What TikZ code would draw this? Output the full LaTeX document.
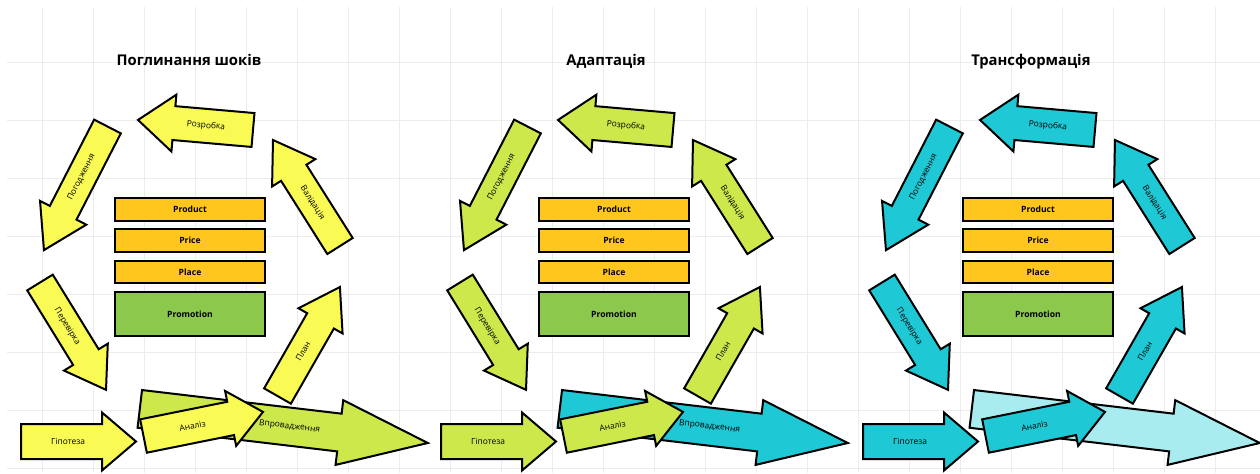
\documentclass[tikz,border=0pt]{standalone}
\usepackage{fontspec}
\setmainfont{Open Sans}
\usetikzlibrary{calc}

\definecolor{arrowyellow}{RGB}{250,250,85}
\definecolor{arrowlime}{RGB}{205,232,75}
\definecolor{arrowcyan}{RGB}{30,200,212}
\definecolor{arrowpale}{RGB}{168,236,240}
\definecolor{boxgold}{RGB}{255,198,30}
\definecolor{boxgreen}{RGB}{140,200,75}
\definecolor{gridgray}{RGB}{236,236,236}

% block arrow: name, tail centre, angle, length, half shaft, half head, head length, fill
\newcommand{\flowarrow}[8]{%
  \begin{scope}[shift={#2}, rotate=#3]
    \filldraw[arrowshape, fill=#8] (0,-#5) -- ({#4-#7},-#5) -- ({#4-#7},-#6) -- (#4,0)
      -- ({#4-#7},#6) -- ({#4-#7},#5) -- (0,#5) -- cycle;
    \coordinate (#1-tail) at (0,0);
    \coordinate (#1-tip) at (#4,0);
  \end{scope}}

\tikzset{
  arrowshape/.style={draw=black, line width=1pt, line join=miter},
  arrowlabel/.style={font=\fontsize{4.2}{5}\selectfont, inner sep=0pt},
  mixbox/.style={draw=black, line width=0.8pt, fill=boxgold, minimum width=75pt,
    minimum height=11.5pt, inner sep=0pt, font=\fontsize{4.3}{5}\selectfont\bfseries},
  paneltitle/.style={font=\fontsize{7.4}{9}\selectfont\bfseries, anchor=base},
  gridline/.style={draw=gridgray, line width=0.5pt},
}

\begin{document}
\begin{tikzpicture}[x=0.5pt, y=-0.5pt]
\clip (0,0) rectangle (1260,473);
\fill[white] (0,0) rectangle (1260,473);
\foreach \gx in {0,...,23} \draw[gridline] ({42+51*\gx},7) -- ({42+51*\gx},473);
\foreach \gy in {0,...,7} \draw[gridline] (7,{62+58*\gy}) -- (1260,{62+58*\gy});

\foreach \k/\ax/\bx/\vx/\tx/\ttl/\cm/\cv in {%
  1/0/0/0/189/{Поглинання шоків}/arrowyellow/arrowlime,
  2/420/424/420/606/{Адаптація}/arrowlime/arrowcyan,
  3/842/848/832/1031/{Трансформація}/arrowcyan/arrowpale}{
  \node[paneltitle] (title\k) at (\tx,65) {\ttl};
  % marketing mix
  \node[mixbox] (product\k) at (\bx+190,209.5) {Product};
  \node[mixbox] (price\k) at (\bx+190,240.5) {Price};
  \node[mixbox, minimum height=11pt] (place\k) at (\bx+190,272) {Place};
  \node[mixbox, fill=boxgreen, minimum height=22pt] (promo\k) at (\bx+190,314) {Promotion};
  % cycle of arrows
  \flowarrow{plan\k}{(\ax+277.5,396)}{60.2}{125.6}{15.4}{25.4}{39}{\cm}
  \flowarrow{vpr\k}{(\vx+139.8,408.9)}{-6.75}{290}{19}{32.6}{89}{\cv}
  \flowarrow{rozr\k}{(\ax+253,130)}{175}{115.4}{17}{28.5}{36}{\cm}
  \flowarrow{pogo\k}{(\ax+107.5,126.5)}{242.8}{139}{15}{26}{42}{\cm}
  \flowarrow{perev\k}{(\ax+40,282.5)}{-58.4}{126}{15}{25.7}{38.4}{\cm}
  \flowarrow{gipo\k}{(\ax+21,441.5)}{0}{115}{17.5}{29}{34}{\cm}
  \flowarrow{anal\k}{(\ax+143.5,436)}{11.4}{121.9}{17}{28}{33}{\cm}
  \flowarrow{valid\k}{(\ax+340,246)}{122.3}{125.4}{15}{25.6}{38.8}{\cm}
  \node[arrowlabel, rotate=60.2] (planlbl\k) at ($(plan\k-tail)!0.41!(plan\k-tip)$) {План};
  \ifnum\k<3
    \node[arrowlabel, rotate=-6.75] (vprlbl\k) at ($(vpr\k-tail)!0.52!(vpr\k-tip)$) {Впровадження};
  \fi
  \node[arrowlabel, rotate=-5] (rozrlbl\k) at ($(rozr\k-tail)!0.41!(rozr\k-tip)$) {Розробка};
  \node[arrowlabel, rotate=62.8] (pogolbl\k) at ($(pogo\k-tail)!0.41!(pogo\k-tip)$) {Погодження};
  \node[arrowlabel, rotate=-58.4] (perevlbl\k) at ($(perev\k-tail)!0.41!(perev\k-tip)$) {Перевірка};
  \node[arrowlabel] (gipolbl\k) at ($(gipo\k-tail)!0.41!(gipo\k-tip)$) {Гіпотеза};
  \node[arrowlabel, rotate=11.4] (anallbl\k) at ($(anal\k-tail)!0.41!(anal\k-tip)$) {Аналіз};
  \node[arrowlabel, rotate=-57.7] (validlbl\k) at ($(valid\k-tail)!0.41!(valid\k-tip)$) {Валідація};
}
\end{tikzpicture}
\end{document}
